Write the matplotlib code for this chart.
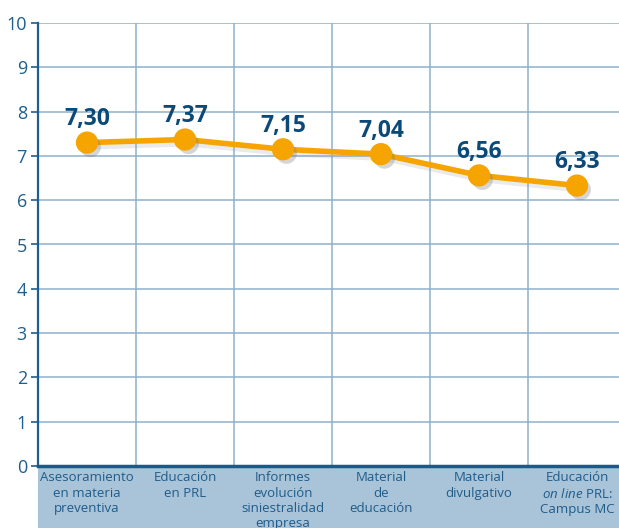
import matplotlib
matplotlib.use("Agg")
import matplotlib.pyplot as plt
import matplotlib.patheffects as pe
from matplotlib.patches import Rectangle

plt.rcParams['font.family'] = ['Open Sans', 'DejaVu Sans']
plt.rcParams['mathtext.fontset'] = 'custom'
plt.rcParams['mathtext.rm'] = 'Open Sans'
plt.rcParams['mathtext.it'] = 'Open Sans:italic'

categories = [
    "Asesoramiento\nen materia\npreventiva",
    "Educación\nen PRL",
    "Informes\nevolución\nsiniestralidad\nempresa",
    "Material\nde\neducación",
    "Material\ndivulgativo",
    "Educación\n$\\mathit{on\\ line}$ PRL:\nCampus MC",
]
values = [7.30, 7.37, 7.15, 7.04, 6.56, 6.33]
value_labels = ["7,30", "7,37", "7,15", "7,04", "6,56", "6,33"]
yticks = list(range(0, 11))

W, H = 619, 528
fig = plt.figure(figsize=(W / 100, H / 100), dpi=100)
fig.patch.set_facecolor('white')

left, right, bottom, top = 38, 626, 466, 23
ax = fig.add_axes([left / W, 1 - bottom / H, (right - left) / W, (bottom - top) / H])
ax.set_zorder(1)

# bottom label band
band = Rectangle((38 / W, 0), 1 - 38 / W, (H - 468) / H, transform=fig.transFigure,
                 facecolor='#a9c4d8', edgecolor='none', zorder=-1)
fig.patches.append(band)

dark = '#1d5f8e'
grid = '#8eb0cc'
orange = '#f5a400'
navy = '#0b4a78'

ax.set_xlim(-0.5, len(values) - 0.5)
ax.set_ylim(0, 10)
ax.set_yticks(yticks)
ax.set_yticklabels([str(t) for t in yticks], fontsize=13, color=dark)
ax.set_xticks([])
for b in [i + 0.5 for i in range(len(values))]:
    ax.axvline(b, color=grid, lw=1.1, zorder=1)
for t in yticks[1:]:
    ax.axhline(t, color=grid, lw=1.1, zorder=1)

for s in ['top', 'right']:
    ax.spines[s].set_visible(False)
ax.spines['left'].set_color(dark)
ax.spines['left'].set_linewidth(1.6)
ax.spines['bottom'].set_color('#1b5a85')
ax.spines['bottom'].set_linewidth(2.5)
ax.tick_params(axis='y', length=5, width=1.2, color=dark, pad=3)

x = list(range(len(values)))
ax.plot(x, values, color=orange, lw=4, zorder=3,
        path_effects=[pe.SimpleLineShadow(offset=(2, -3), shadow_color='#999999', alpha=0.2), pe.Normal()])
ax.plot(x, values, 'o', color=orange, ms=15, zorder=4,
        path_effects=[pe.SimplePatchShadow(offset=(2.5, -3), shadow_rgbFace='#777777', alpha=0.3), pe.Normal()])

for xi, v, lab in zip(x, values, value_labels):
    ax.annotate(lab, (xi, v), xytext=(0, 17), textcoords='offset points',
                ha='center', va='center', fontsize=16.5, fontweight='bold', color=navy, zorder=5)

for xi, c in zip(x, categories):
    ax.text(xi, -0.12, c, ha='center', va='top', fontsize=9.5, color='#1f5c8a',
            linespacing=1.22, clip_on=False, zorder=6)

fig.savefig('out.png', dpi=100)
